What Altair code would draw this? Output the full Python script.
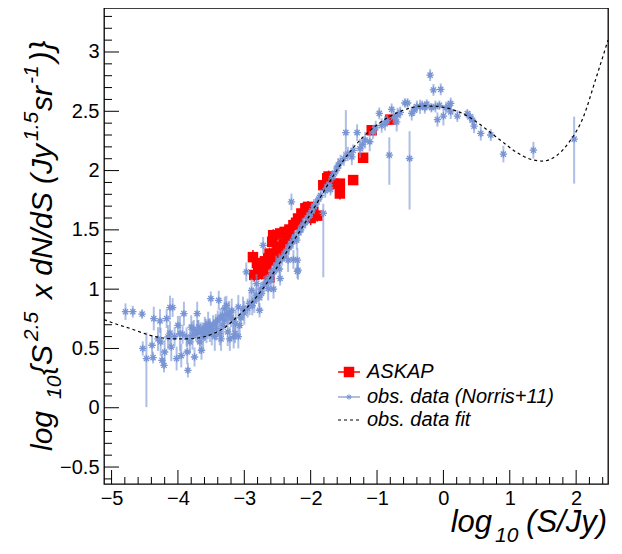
import altair as alt
import pandas as pd

# ---------------- data ----------------
# obs. data (Norris+11): x = log10(S/Jy), y, lower error, upper error
blue_x = [-4.79, -4.68, -4.54, -4.53, -4.475, -4.39, -4.375, -4.364, -4.27, -4.26, -4.24, -4.21, -4.20, -4.17,
          -4.12, -4.08, -4.15, -4.10, -4.02, -4.00, -3.97, -3.95, -3.91, -3.87, -3.85, -3.86, -3.82, -3.80,
          -3.78, -3.75, -3.71, -3.70, -3.67, -3.645, -3.62, -3.595, -3.57, -3.545, -3.52, -3.505, -3.49,
          -3.445, -3.42, -3.385, -3.37, -3.35, -3.32, -3.294, -3.27, -3.25, -3.218, -3.19, -3.17, -3.13,
          -3.09, -3.09,
          -3.76, -3.73, -3.69, -3.66, -3.63, -3.60, -3.58, -3.55, -3.53, -3.50, -3.47, -3.43, -3.40, -3.36,
          -3.33, -3.30, -3.26, -3.23, -3.20, -4.30, -4.05, -3.93, -4.12,
          -3.16, -3.14, -3.07, -3.02, -2.97, -2.89, -2.815, -2.77, -2.74, -2.716, -2.64, -2.60, -2.52, -2.46,
          -2.34, -2.29, -2.21, -2.19, -2.20,
          -3.05, -3.00, -2.95, -2.92, -2.88, -2.85, -2.82, -2.78, -2.75, -2.70, -2.67, -2.62, -2.58, -2.55,
          -2.50, -2.47, -2.43, -2.40, -2.37, -2.33, -2.30, -2.27, -2.24, -2.18, -2.15, -2.12, -2.08, -2.05,
          -2.02, -1.98, -2.26, -2.20, -2.56, -2.47,
          -1.95, -1.92, -1.88, -1.85, -1.81, -1.78, -1.75, -1.72, -1.70, -1.67, -1.64, -1.60, -1.585, -1.55,
          -1.50, -1.47, -1.44, -1.38, -1.36, -1.30, -1.257, -1.22, -1.18, -1.11, -1.06, -1.02,
          -0.966, -0.93, -0.88, -0.85, -0.815, -0.78, -0.75, -0.704, -0.69, -0.65, -0.58, -0.54, -0.51,
          -0.478, -0.44, -0.40, -0.352, -0.32, -0.28, -0.25, -0.20, -0.15, -0.18, -0.12, -0.09, -0.06,
          -0.04, 0.00, 0.04, 0.074, 0.11, 0.11,
          0.21, 0.36, 0.40, 0.44, 0.462, 0.563, 0.714, 0.904, 1.356, 1.97]
blue_y = [0.81, 0.81, 0.79, 0.50, 0.415, 0.527, 0.423, 0.752, 0.732, 0.555, 0.40, 0.358, 0.47, 0.752,
          0.845, 0.845, 0.597, 0.512, 0.415, 0.695, 0.625, 0.44, 0.794, 0.597, 0.316, 0.47, 0.555, 0.68,
          0.61, 0.428, 0.794, 0.64, 0.555, 0.485, 0.60, 0.667, 0.625, 0.71, 0.655, 0.92, 0.625,
          0.60, 0.667, 0.906, 0.625, 0.58, 0.695, 0.837, 0.864, 0.64, 0.58, 0.82, 0.74, 0.71,
          0.85, 0.60,
          0.66, 0.62, 0.68, 0.64, 0.66, 0.63, 0.69, 0.64, 0.68, 0.66, 0.70, 0.72, 0.74, 0.76,
          0.78, 0.74, 0.78, 0.80, 0.76, 0.58, 0.60, 0.62, 0.63,
          0.60, 0.625, 0.695, 0.837, 1.145, 0.99, 1.047, 0.822, 0.963, 1.37, 1.005, 1.075, 1.202, 1.09,
          1.245, 1.736, 1.413, 1.16, 1.245,
          0.76, 0.80, 0.84, 0.88, 0.86, 0.90, 0.95, 0.93, 1.00, 1.04, 1.06, 1.10, 1.13, 1.16,
          1.20, 1.24, 1.26, 1.28, 1.32, 1.35, 1.38, 1.40, 1.44, 1.48, 1.50, 1.54, 1.56, 1.60,
          1.62, 1.66, 1.25, 1.15, 1.00, 1.17,
          1.70, 1.72, 1.76, 1.79, 1.64, 1.83, 1.86, 1.88, 1.84, 1.95, 1.98, 2.02, 2.046, 2.074,
          2.10, 2.32, 2.14, 2.116, 2.17, 2.32, 2.186, 2.22, 2.257, 2.243, 2.327, 2.36,
          2.482, 2.38, 2.398, 2.42, 2.13, 2.516, 2.45, 2.41, 2.47, 2.49, 2.57, 2.57, 2.102,
          2.482, 2.51, 2.54, 2.538, 2.55, 2.53, 2.56, 2.805, 2.68, 2.53, 2.54, 2.43, 2.55,
          2.685, 2.46, 2.53, 2.54, 2.566, 2.495,
          2.46, 2.48, 2.453, 2.425, 2.375, 2.313, 2.30, 2.139, 2.172, 2.265]
blue_elo = [0.07, 0.05, 0.04, 0.06, 0.41, 0.08, 0.05, 0.10, 0.10, 0.12, 0.05, 0.06, 0.10, 0.08,
            0.10, 0.08, 0.10, 0.12, 0.10, 0.08, 0.15, 0.10, 0.10, 0.08, 0.06, 0.10, 0.10, 0.10,
            0.12, 0.08, 0.10, 0.10, 0.10, 0.08, 0.10, 0.10, 0.08, 0.10, 0.10, 0.06, 0.10,
            0.12, 0.10, 0.08, 0.10, 0.10, 0.10, 0.10, 0.08, 0.12, 0.10, 0.10, 0.10, 0.12,
            0.10, 0.10,
            0.08, 0.06, 0.06, 0.08, 0.06, 0.07, 0.06, 0.06, 0.07, 0.06, 0.08, 0.07, 0.08, 0.08,
            0.07, 0.08, 0.08, 0.10, 0.08, 0.10, 0.08, 0.08, 0.10,
            0.10, 0.08, 0.10, 0.10, 0.08, 0.10, 0.08, 0.06, 0.06, 0.07, 0.10, 0.10, 0.08, 0.06,
            0.10, 0.07, 0.08, 0.08, 0.10,
            0.08, 0.10, 0.08, 0.10, 0.08, 0.10, 0.07, 0.08, 0.06, 0.07, 0.06, 0.07, 0.07, 0.07,
            0.06, 0.06, 0.06, 0.05, 0.06, 0.06, 0.05, 0.06, 0.05, 0.06, 0.05, 0.06, 0.05, 0.05,
            0.05, 0.06, 0.08, 0.06, 0.08, 0.10,
            0.06, 0.05, 0.05, 0.05, 0.54, 0.06, 0.05, 0.06, 0.05, 0.05, 0.06, 0.05, 0.06, 0.06,
            0.06, 0.20, 0.06, 0.07, 0.05, 0.07, 0.08, 0.06, 0.07, 0.08, 0.06, 0.06,
            0.05, 0.06, 0.06, 0.05, 0.25, 0.05, 0.06, 0.08, 0.06, 0.05, 0.04, 0.04, 0.43,
            0.06, 0.05, 0.05, 0.06, 0.04, 0.05, 0.04, 0.05, 0.05, 0.04, 0.05, 0.06, 0.04,
            0.05, 0.08, 0.05, 0.05, 0.05, 0.06,
            0.05, 0.04, 0.05, 0.05, 0.06, 0.06, 0.05, 0.07, 0.07, 0.375]
blue_ehi = [0.07, 0.05, 0.04, 0.06, 0.22, 0.08, 0.05, 0.10, 0.10, 0.12, 0.05, 0.06, 0.10, 0.08,
            0.10, 0.08, 0.10, 0.12, 0.10, 0.08, 0.15, 0.10, 0.10, 0.08, 0.06, 0.10, 0.10, 0.10,
            0.12, 0.08, 0.10, 0.10, 0.10, 0.08, 0.10, 0.10, 0.08, 0.10, 0.10, 0.06, 0.10,
            0.12, 0.10, 0.08, 0.10, 0.10, 0.10, 0.10, 0.08, 0.12, 0.10, 0.10, 0.10, 0.12,
            0.10, 0.10,
            0.08, 0.06, 0.06, 0.08, 0.06, 0.07, 0.06, 0.06, 0.07, 0.06, 0.08, 0.07, 0.08, 0.08,
            0.07, 0.08, 0.08, 0.10, 0.08, 0.10, 0.08, 0.08, 0.10,
            0.10, 0.08, 0.10, 0.10, 0.08, 0.10, 0.08, 0.06, 0.06, 0.07, 0.10, 0.10, 0.08, 0.06,
            0.10, 0.07, 0.08, 0.08, 0.10,
            0.08, 0.10, 0.08, 0.10, 0.08, 0.10, 0.07, 0.08, 0.06, 0.07, 0.06, 0.07, 0.07, 0.07,
            0.06, 0.06, 0.06, 0.05, 0.06, 0.06, 0.05, 0.06, 0.05, 0.06, 0.05, 0.06, 0.05, 0.05,
            0.05, 0.06, 0.08, 0.06, 0.08, 0.10,
            0.06, 0.05, 0.05, 0.05, 0.08, 0.06, 0.05, 0.06, 0.05, 0.05, 0.06, 0.05, 0.06, 0.06,
            0.06, 0.19, 0.06, 0.07, 0.05, 0.07, 0.08, 0.06, 0.07, 0.08, 0.06, 0.06,
            0.05, 0.06, 0.06, 0.05, 0.15, 0.05, 0.06, 0.08, 0.06, 0.05, 0.04, 0.04, 0.23,
            0.06, 0.05, 0.05, 0.06, 0.04, 0.05, 0.04, 0.05, 0.05, 0.04, 0.05, 0.06, 0.04,
            0.05, 0.08, 0.05, 0.05, 0.05, 0.06,
            0.05, 0.04, 0.05, 0.05, 0.06, 0.06, 0.05, 0.07, 0.07, 0.19]

# ASKAP
red_x = [-2.87, -2.81, -2.79, -2.77, -2.74, -2.716, -2.69, -2.665, -2.64, -2.62, -2.565, -2.55, -2.52,
         -2.50, -2.46, -2.44, -2.41, -2.39, -2.37, -2.32, -2.26, -2.19, -2.14, -2.08, -2.04, -1.96,
         -1.90, -1.81, -1.75, -1.73, -1.66, -1.56, -1.56, -1.36, -1.21, -1.08, -0.80, -2.85, -2.62,
         -2.58, -2.35, -2.22, -2.00]
red_y = [1.27, 1.22, 1.20, 1.175, 1.13, 1.145, 1.235, 1.20, 1.26, 1.10, 1.455, 1.24, 1.30,
         1.354, 1.47, 1.30, 1.384, 1.483, 1.38, 1.503, 1.54, 1.596, 1.638, 1.682, 1.694, 1.652,
         1.62, 1.877, 1.935, 1.95, 1.89, 1.807, 1.89, 1.92, 2.108, 2.34, 2.43, 1.12, 1.30,
         1.40, 1.45, 1.56, 1.60]
red_err = [0.06, 0.05, 0.06, 0.06, 0.05, 0.06, 0.05, 0.05, 0.06, 0.05, 0.05, 0.06, 0.05,
           0.05, 0.05, 0.05, 0.05, 0.05, 0.05, 0.05, 0.05, 0.05, 0.05, 0.05, 0.05, 0.05,
           0.05, 0.05, 0.05, 0.05, 0.05, 0.05, 0.04, 0.04, 0.04, 0.04, 0.04, 0.06, 0.05,
           0.05, 0.05, 0.05, 0.06]

# obs. data fit
fit_x = [-5.114, -4.9, -4.7, -4.5, -4.3, -4.1, -3.9, -3.7, -3.5, -3.3, -3.1, -2.9, -2.7, -2.5, -2.3,
         -2.1, -1.9, -1.7, -1.5, -1.3, -1.1, -0.9, -0.7, -0.5, -0.3, -0.1, 0.1, 0.3, 0.5, 0.7, 0.9,
         1.1, 1.3, 1.5, 1.7, 1.9, 2.1, 2.3, 2.48]
fit_y = [0.743, 0.70, 0.665, 0.625, 0.595, 0.582, 0.580, 0.588, 0.618, 0.675, 0.77, 0.88, 1.02, 1.19,
         1.37, 1.545, 1.73, 1.92, 2.09, 2.23, 2.34, 2.425, 2.487, 2.527, 2.545, 2.542, 2.52, 2.478,
         2.41, 2.325, 2.238, 2.155, 2.098, 2.08, 2.125, 2.245, 2.44, 2.78, 3.10]

# axes
x_major = [-5, -4, -3, -2, -1, 0, 1, 2]
x_minor = [-4.8, -4.6, -4.4, -4.2, -3.8, -3.6, -3.4, -3.2, -2.8, -2.6, -2.4, -2.2, -1.8, -1.6, -1.4,
           -1.2, -0.8, -0.6, -0.4, -0.2, 0.2, 0.4, 0.6, 0.8, 1.2, 1.4, 1.6, 1.8, 2.2, 2.4]
y_major = [-0.5, 0, 0.5, 1, 1.5, 2, 2.5, 3]
y_minor = [-0.6, -0.4, -0.3, -0.2, -0.1, 0.1, 0.2, 0.3, 0.4, 0.6, 0.7, 0.8, 0.9, 1.1, 1.2, 1.3, 1.4,
           1.6, 1.7, 1.8, 1.9, 2.1, 2.2, 2.3, 2.4, 2.6, 2.7, 2.8, 2.9, 3.1, 3.2, 3.3]
x_domain = [-5.114, 2.48]
y_domain = [-0.643, 3.371]

# ---------------- chart ----------------
W, H = 504, 476
FONT = "Liberation Sans"
BLUE = "#7894d4"
xs = alt.Scale(domain=x_domain, nice=False, zero=False)
ys = alt.Scale(domain=y_domain, nice=False, zero=False)

blue = pd.DataFrame({"x": blue_x, "y": blue_y,
                     "lo": [y - e for y, e in zip(blue_y, blue_elo)],
                     "hi": [y + e for y, e in zip(blue_y, blue_ehi)]})
red = pd.DataFrame({"x": red_x, "y": red_y,
                    "lo": [y - e for y, e in zip(red_y, red_err)],
                    "hi": [y + e for y, e in zip(red_y, red_err)]})
fit = pd.DataFrame({"x": fit_x, "y": fit_y})

x_axis = alt.Axis(values=x_major, format="d", ticks=False, domain=False, grid=False,
                  labelFont=FONT, labelFontSize=20, labelColor="black", labelPadding=4,
                  labelFlush=False, labelOverlap=False, title=None)
y_axis = alt.Axis(values=y_major, format="~g", ticks=False, domain=False, grid=False,
                  labelFont=FONT, labelFontSize=20, labelColor="black", labelPadding=5,
                  labelFlush=False, labelOverlap=False, title=None)


def XA(f="x"):
    return alt.X(f"{f}:Q", scale=xs, axis=x_axis)


def YA(f="y"):
    return alt.Y(f"{f}:Q", scale=ys, axis=y_axis)


red_err_l = alt.Chart(red).mark_rule(color="red", strokeWidth=1.5).encode(
    x=XA(), y=YA("lo"), y2="hi:Q")
red_pts = alt.Chart(red).mark_point(shape="square", filled=True, color="red", size=110,
                                    opacity=1).encode(x=XA(), y=YA())
blue_err_l = alt.Chart(blue).mark_rule(color=BLUE, strokeWidth=2, opacity=0.6).encode(
    x=XA(), y=YA("lo"), y2="hi:Q")
STAR = "M-1,0L1,0M0,-1L0,1M-0.7,-0.7L0.7,0.7M-0.7,0.7L0.7,-0.7"
blue_pts = alt.Chart(blue).mark_point(shape=STAR, filled=False, color=BLUE, size=55,
                                      strokeWidth=1.3, opacity=1).encode(x=XA(), y=YA())
fit_line = alt.Chart(fit).mark_line(color="black", strokeWidth=1.2, strokeDash=[3, 3],
                                    interpolate="monotone").encode(x=XA(), y=YA())

# inward ticks (ROOT style)
xmaj = alt.Chart(pd.DataFrame({"v": x_major})).mark_rule(color="black", strokeWidth=1).encode(
    x=XA("v"), y=alt.value(H), y2=alt.value(H - 14))
xmin = alt.Chart(pd.DataFrame({"v": x_minor})).mark_rule(color="black", strokeWidth=1).encode(
    x=XA("v"), y=alt.value(H), y2=alt.value(H - 7))
ymaj = alt.Chart(pd.DataFrame({"v": y_major})).mark_rule(color="black", strokeWidth=1).encode(
    y=YA("v"), x=alt.value(0), x2=alt.value(15))
ymin = alt.Chart(pd.DataFrame({"v": y_minor})).mark_rule(color="black", strokeWidth=1).encode(
    y=YA("v"), x=alt.value(0), x2=alt.value(8))

one = alt.Data(values=[{"a": 1}])


def txt(s, x, y, size, angle=0, align="left", baseline="alphabetic", italic=True):
    return alt.Chart(one).mark_text(text=s, font=FONT, fontSize=size, angle=angle, align=align,
                                    baseline=baseline, fontStyle="italic" if italic else "normal",
                                    color="black").encode(x=alt.value(x), y=alt.value(y))


# axis titles
xt = [txt("log", 388, 524, 31, align="right"), txt("10", 391, 534, 21),
      txt("(S/Jy)", 503, 524, 31, align="right")]
BX = -52
MAIN, SCR = 30, 21
yt = [txt("log", BX, 443, MAIN, angle=270),
      txt("10", BX + 9, 391, SCR, angle=270),
      txt("{S", BX, 367, MAIN, angle=270),
      txt("2.5", BX - 14, 333, SCR, angle=270),
      txt("x dN/dS (Jy", BX, 291, MAIN, angle=270),
      txt("1.5", BX - 14, 133, SCR, angle=270),
      txt("sr", BX, 103, MAIN, angle=270),
      txt("-1", BX - 14, 76, SCR, angle=270),
      txt(")}", BX, 54, MAIN + 2, angle=270)]

# legend
LX0, LX1, LXM, LXT = 234, 256, 245, 263
rows = [364, 389, 412]
leg = [
    alt.Chart(one).mark_rule(color="red", strokeWidth=1.5).encode(
        x=alt.value(LX0), x2=alt.value(LX1), y=alt.value(rows[0])),
    alt.Chart(one).mark_point(shape="square", filled=True, color="red", size=110, opacity=1).encode(
        x=alt.value(LXM), y=alt.value(rows[0])),
    alt.Chart(one).mark_rule(color=BLUE, strokeWidth=1.2).encode(
        x=alt.value(LX0), x2=alt.value(LX1), y=alt.value(rows[1])),
    alt.Chart(one).mark_point(shape=STAR, filled=False, color=BLUE, size=30, strokeWidth=1,
                              opacity=1).encode(x=alt.value(LXM), y=alt.value(rows[1])),
    alt.Chart(one).mark_rule(color="black", strokeWidth=1.2, strokeDash=[3, 3]).encode(
        x=alt.value(LX0), x2=alt.value(LX1), y=alt.value(rows[2])),
    txt("ASKAP", LXT, rows[0], 20, baseline="middle"),
    txt("obs. data (Norris+11)", LXT, rows[1], 20, baseline="middle"),
    txt("obs. data fit", LXT, rows[2], 20, baseline="middle"),
]

chart = alt.layer(red_err_l, red_pts, blue_err_l, blue_pts, fit_line, xmaj, xmin, ymaj, ymin,
                  *xt, *yt, *leg).properties(
    width=W, height=H,
    autosize=alt.AutoSizeParams(type="none"),
    padding={"left": 96, "top": 0, "right": 6, "bottom": 62},
    background="white",
).configure_view(stroke="black", strokeWidth=1.3)

chart.save("out.html", embed_options={"renderer": "svg", "actions": False})
